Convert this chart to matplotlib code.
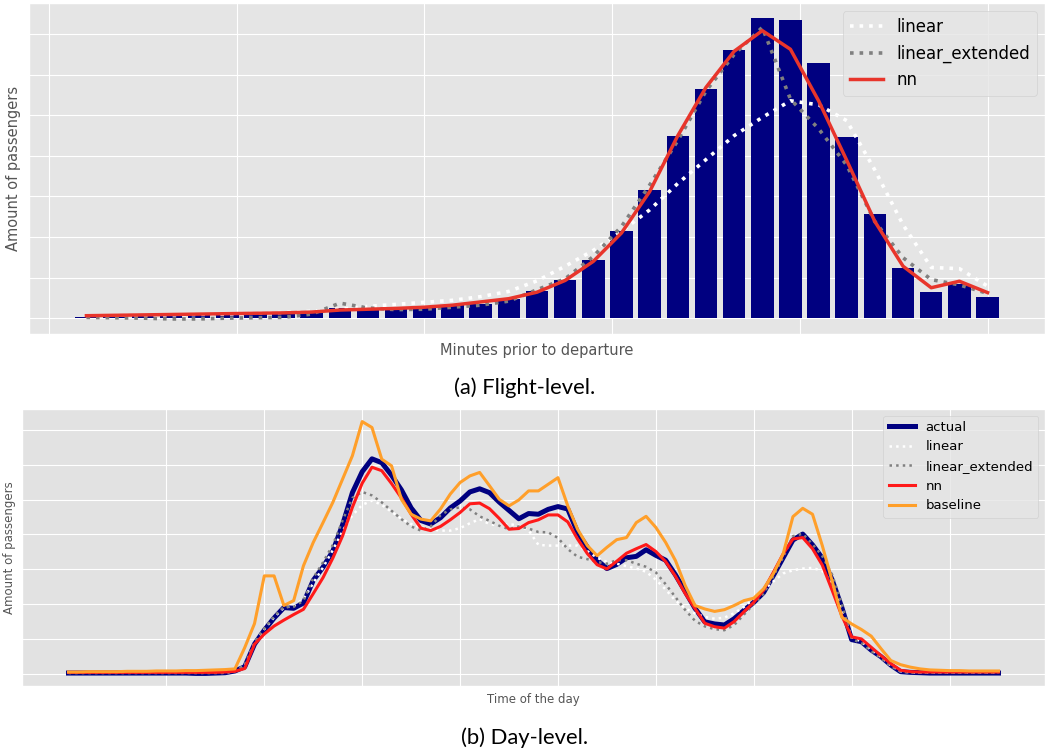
import numpy as np
import matplotlib.pyplot as plt

plt.style.use('ggplot')

# (a) flight level: 15 minute bins before departure
minutes_prior = [480, 465, 450, 435, 420, 405, 390, 375, 360, 345, 330,
                 315, 300, 285, 270, 255, 240, 225, 210, 195, 180, 165,
                 150, 135, 120, 105, 90, 75, 60, 45, 30, 15, 0]
flight_actual = [0.03, 0.04, 0.05, 0.06, 0.07, 0.08, 0.10, 0.11, 0.12, 0.24, 0.24,
                 0.24, 0.28, 0.32, 0.34, 0.47, 0.67, 0.94, 1.44, 2.16, 3.17, 4.50,
                 5.66, 6.62, 7.40, 7.36, 6.29, 4.46, 2.58, 1.24, 0.64, 0.83, 0.52]
flight_linear = [0.05, 0.06, 0.07, 0.08, 0.09, 0.10, 0.12, 0.14, 0.17, 0.22, 0.29,
                 0.34, 0.39, 0.44, 0.53, 0.66, 0.92, 1.28, 1.67, 2.14, 2.67, 3.32,
                 3.91, 4.50, 4.95, 5.36, 5.26, 4.87, 3.65, 2.30, 1.25, 1.22, 0.79]
flight_linear_ext = [0.02, 0.01, 0.00, -0.02, -0.02, 0.00, 0.01, 0.02, 0.10, 0.37, 0.25,
                     0.21, 0.22, 0.27, 0.32, 0.42, 0.70, 0.97, 1.52, 2.26, 3.28, 4.38,
                     5.60, 6.50, 7.17, 5.40, 4.67, 3.77, 2.38, 1.49, 0.95, 0.82, 0.61]
flight_nn = [0.06, 0.07, 0.08, 0.09, 0.10, 0.11, 0.12, 0.13, 0.15, 0.20, 0.22,
             0.24, 0.27, 0.32, 0.40, 0.48, 0.64, 0.93, 1.40, 2.10, 3.12, 4.50,
             5.69, 6.58, 7.09, 6.63, 5.36, 3.89, 2.38, 1.28, 0.75, 0.91, 0.63]

# (b) day level: 96 quarter-hour slots
slots = list(range(96))
day_actual = [0.02, 0.02, 0.02, 0.02, 0.02, 0.02, 0.02, 0.02, 0.02, 0.02, 0.02, 0.02,
              0.02, 0.01, 0.01, 0.02, 0.03, 0.08, 0.20, 0.85, 1.25, 1.60, 1.90, 1.88,
              2.03, 2.68, 3.06, 3.52, 4.28, 5.20, 5.80, 6.17, 6.06, 5.70, 5.28, 4.76,
              4.40, 4.30, 4.48, 4.76, 4.96, 5.22, 5.31, 5.20, 4.93, 4.69, 4.45, 4.60,
              4.58, 4.72, 4.80, 4.73, 4.06, 3.63, 3.26, 3.02, 3.14, 3.33, 3.37, 3.56,
              3.40, 3.26, 2.84, 2.36, 1.88, 1.49, 1.43, 1.40, 1.58, 1.82, 2.05, 2.33,
              2.82, 3.33, 3.84, 4.01, 3.70, 3.32, 2.70, 1.90, 0.98, 0.92, 0.68, 0.49,
              0.25, 0.06, 0.04, 0.03, 0.02, 0.02, 0.02, 0.02, 0.02, 0.02, 0.02, 0.02]
day_linear = [0.03, 0.03, 0.03, 0.03, 0.03, 0.03, 0.03, 0.03, 0.03, 0.03, 0.03, 0.03,
              0.03, 0.03, 0.03, 0.03, 0.03, 0.08, 0.22, 0.88, 1.28, 1.62, 1.90, 1.95,
              2.15, 2.60, 3.05, 3.55, 4.10, 4.55, 4.85, 4.97, 4.85, 4.65, 4.45, 4.30,
              4.20, 4.15, 4.11, 4.11, 4.18, 4.32, 4.44, 4.30, 4.25, 4.30, 4.25, 4.12,
              3.70, 3.68, 3.68, 3.68, 3.68, 3.52, 3.33, 3.21, 3.16, 3.09, 3.02, 2.93,
              2.70, 2.42, 2.10, 1.88, 1.73, 1.63, 1.58, 1.61, 1.74, 1.92, 2.15, 2.40,
              2.65, 2.88, 2.97, 3.02, 3.04, 2.95, 2.60, 1.80, 1.05, 0.92, 0.68, 0.48,
              0.24, 0.07, 0.04, 0.04, 0.04, 0.04, 0.04, 0.04, 0.04, 0.04, 0.04, 0.04]
day_linear_ext = [0.02, 0.02, 0.02, 0.02, 0.02, 0.02, 0.02, 0.02, 0.02, 0.02, 0.02, 0.02,
                  0.02, 0.02, 0.02, 0.02, 0.02, 0.08, 0.25, 0.90, 1.30, 1.65, 1.92, 1.92,
                  2.10, 2.75, 3.20, 3.70, 4.40, 5.05, 5.22, 5.12, 4.92, 4.68, 4.44, 4.23,
                  4.11, 4.23, 4.55, 4.72, 4.78, 4.72, 4.52, 4.39, 4.25, 4.15, 4.23, 4.17,
                  4.07, 4.06, 3.90, 3.58, 3.36, 3.29, 3.21, 3.16, 3.26, 3.26, 3.16, 3.07,
                  2.91, 2.57, 2.20, 1.83, 1.52, 1.36, 1.28, 1.25, 1.40, 1.70, 2.00, 2.30,
                  2.80, 3.35, 3.95, 4.02, 3.72, 3.38, 2.85, 2.00, 1.00, 0.88, 0.65, 0.45,
                  0.22, 0.06, 0.03, 0.03, 0.03, 0.03, 0.03, 0.03, 0.03, 0.03, 0.03, 0.03]
day_nn = [0.04, 0.04, 0.04, 0.04, 0.04, 0.04, 0.04, 0.04, 0.04, 0.04, 0.04, 0.04,
          0.04, 0.04, 0.04, 0.04, 0.05, 0.07, 0.15, 0.85, 1.14, 1.37, 1.54, 1.70,
          1.85, 2.30, 2.76, 3.32, 3.96, 4.78, 5.47, 5.93, 5.83, 5.46, 5.05, 4.58,
          4.18, 4.11, 4.23, 4.42, 4.63, 4.88, 4.90, 4.74, 4.46, 4.15, 4.17, 4.34,
          4.42, 4.56, 4.56, 4.36, 3.87, 3.45, 3.13, 3.01, 3.23, 3.46, 3.59, 3.71,
          3.51, 3.22, 2.80, 2.30, 1.87, 1.45, 1.35, 1.31, 1.50, 1.78, 2.05, 2.40,
          2.91, 3.44, 3.87, 3.91, 3.59, 3.12, 2.40, 1.66, 1.06, 1.00, 0.76, 0.52,
          0.29, 0.10, 0.06, 0.05, 0.05, 0.05, 0.05, 0.05, 0.05, 0.05, 0.05, 0.05]
day_baseline = [0.05, 0.05, 0.06, 0.06, 0.06, 0.06, 0.07, 0.07, 0.07, 0.08, 0.08, 0.08,
                0.09, 0.09, 0.10, 0.11, 0.12, 0.14, 0.75, 1.44, 2.81, 2.81, 1.96, 2.10,
                3.10, 3.77, 4.34, 4.92, 5.59, 6.26, 7.24, 7.07, 6.16, 5.97, 5.01, 4.58,
                4.44, 4.39, 4.73, 5.16, 5.49, 5.68, 5.78, 5.40, 5.01, 4.82, 4.99, 5.25,
                5.25, 5.44, 5.63, 4.82, 4.15, 3.68, 3.39, 3.63, 3.85, 3.91, 4.34, 4.52,
                4.20, 3.77, 3.25, 2.53, 1.96, 1.86, 1.79, 1.84, 1.96, 2.10, 2.17, 2.44,
                2.87, 3.44, 4.51, 4.75, 4.58, 3.68, 2.67, 1.62, 1.43, 1.27, 1.08, 0.72,
                0.38, 0.26, 0.19, 0.14, 0.11, 0.10, 0.09, 0.09, 0.08, 0.08, 0.08, 0.08]

fig = plt.figure(figsize=(10.5, 7.55), dpi=100)

# --- flight level ---
ax1 = fig.add_axes([29/1050, 1-334/755, 1016/1050, 331/755])
ax1.bar(minutes_prior, flight_actual, width=12, color='navy')
ax1.plot(minutes_prior, flight_linear, ':', color='white', lw=2.6, label='linear')
ax1.plot(minutes_prior, flight_linear_ext, ':', color='grey', lw=2.6, label='linear_extended')
ax1.plot(minutes_prior, flight_nn, '-', color='#e8352b', lw=2.5, label='nn')
ax1.invert_xaxis()
ax1.set_xticks([0, 100, 200, 300, 400, 500])
ax1.set_yticks(range(8))
ax1.tick_params(labelbottom=False, labelleft=False, length=0)
ax1.set_xlabel('Minutes prior to departure', fontsize=10.5, labelpad=6.5)
ax1.set_ylabel('Amount of passengers', fontsize=10.5, labelpad=5.5)
ax1.legend(loc='upper right', fontsize=12)

# --- day level ---
ax2 = fig.add_axes([22/1050, 1-686/755, 1023/1050, 277/755])
ax2.set_facecolor('#e2e2e2')
ax2.plot(slots, day_actual, '-', color='navy', lw=3.6, label='actual')
ax2.plot(slots, day_linear, ':', color='white', lw=1.8, label='linear')
ax2.plot(slots, day_linear_ext, ':', color='grey', lw=1.8, label='linear_extended')
ax2.plot(slots, day_nn, '-', color='#ff1a1a', lw=2.2, label='nn')
ax2.plot(slots, day_baseline, '-', color='#ff9f2a', lw=2.2, label='baseline')
ax2.set_xticks(range(10, 100, 10))
ax2.set_yticks(range(8))
ax2.tick_params(labelbottom=False, labelleft=False, length=0)
ax2.set_xlabel('Time of the day', fontsize=8.5, labelpad=5)
ax2.set_ylabel('Amount of passengers', fontsize=8.5, labelpad=4.5)
ax2.legend(loc='upper right', fontsize=9.5)

fig.text(0.5, 1-388/755, '(a) Flight-level.', ha='center', va='center',
         fontsize=15.8, family='Lato', color='black')
fig.text(0.5, 1-738/755, '(b) Day-level.', ha='center', va='center',
         fontsize=15.8, family='Lato', color='black')

fig.savefig('out.png', dpi=100)
